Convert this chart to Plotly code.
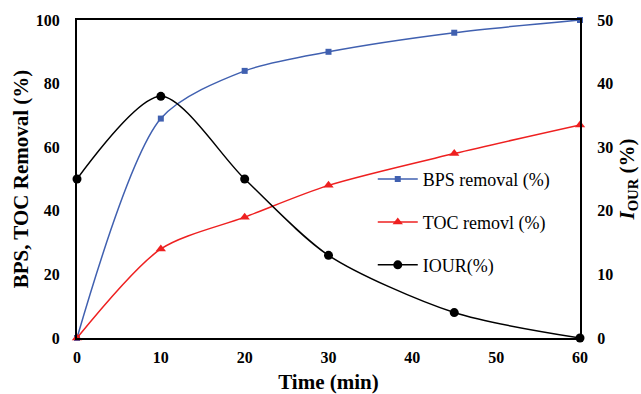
import plotly.graph_objects as go

time = [0, 10, 20, 30, 45, 60]
bps = [0, 69, 84, 90, 96, 100]
toc = [0, 28, 38, 48, 58, 67]
iour = [25, 38, 25, 13, 4, 0]

font = "Liberation Serif"
tickf = dict(size=16, family=font, weight="bold", color="black")
fig = go.Figure()
fig.add_trace(go.Scatter(x=time, y=bps, name="BPS removal (%)", mode="lines+markers",
                         line=dict(color="#4060B0", width=1.5, shape="spline", smoothing=0.8),
                         marker=dict(symbol="square", size=6, color="#4060B0"),
                         legendgroup="a", cliponaxis=False))
fig.add_trace(go.Scatter(x=time, y=toc, name="TOC removl (%)", mode="lines+markers",
                         line=dict(color="#EE2020", width=1.5, shape="spline", smoothing=0.8),
                         marker=dict(symbol="triangle-up", size=9, color="#EE2020"),
                         legendgroup="b", cliponaxis=False))
fig.add_trace(go.Scatter(x=time, y=iour, name="IOUR(%)", mode="lines+markers", yaxis="y2",
                         line=dict(color="black", width=1.5, shape="spline", smoothing=0.8),
                         marker=dict(symbol="circle", size=9, color="black"),
                         legendgroup="c", cliponaxis=False))

fig.update_layout(
    width=641, height=394,
    margin=dict(l=77, r=61, t=20, b=56),
    paper_bgcolor="white", plot_bgcolor="white",
    font=dict(family=font, color="black"),
    showlegend=True,
    legend=dict(x=0.588, y=0.557, xanchor="left", yanchor="top", font=dict(size=18, family=font),
                tracegroupgap=16.5, itemwidth=40, bgcolor="rgba(0,0,0,0)"),
    xaxis=dict(range=[0, 60], tickvals=[0, 10, 20, 30, 40, 50, 60], showgrid=False, zeroline=False,
               showline=True, linecolor="black", linewidth=2, mirror=True, automargin=False,
               tickfont=tickf, ticklabelstandoff=4,
               title=dict(text="<b>Time (min)</b>", font=dict(size=21, family=font), standoff=9)),
    yaxis=dict(range=[0, 100], tickvals=[0, 20, 40, 60, 80, 100], showgrid=False, zeroline=False,
               showline=True, linecolor="black", linewidth=2, mirror=True, automargin=False,
               tickfont=tickf, ticklabelstandoff=12,
               title=dict(text="<b>BPS, TOC Removal (%)</b>", font=dict(size=21, family=font), standoff=1)),
    yaxis2=dict(range=[0, 50], tickvals=[0, 10, 20, 30, 40, 50], overlaying="y", side="right",
                showgrid=False, zeroline=False, showline=True, linecolor="black", linewidth=2,
                automargin=False, tickfont=tickf, ticklabelstandoff=12,
                title=dict(text="<b><i>I</i><sub>OUR</sub> (%)</b>", font=dict(size=21, family=font), standoff=9)),
)
fig.write_html("out.html")
